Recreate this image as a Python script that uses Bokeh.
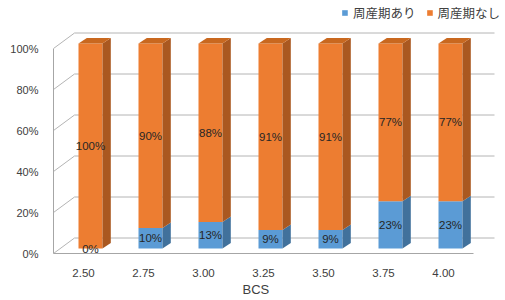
from bokeh.plotting import figure
from bokeh.models import (ColumnDataSource, FixedTicker, PrintfTickFormatter,
                          Range1d, Legend, LegendItem, Title)
from bokeh.core.properties import value
from bokeh.embed import file_html
from bokeh.resources import INLINE

# ---------------- data ----------------
bcs = [2.50, 2.75, 3.00, 3.25, 3.50, 3.75, 4.00]
peri_yes = [0, 10, 13, 9, 9, 23, 23]        # 周産期あり (%)
peri_no = [100, 90, 88, 91, 91, 77, 77]     # 周産期なし (%)
y_ticks = [0, 20, 40, 60, 80, 100]
series_names = ["周産期あり", "周産期なし"]
x_title = "BCS"

# ---------------- style / geometry ----------------
W, H = 505, 300
B_LEFT, B_BOTTOM, B_RIGHT, B_TOP = 53, 47, 5, 0
PX_X = 240.0      # pixels per BCS unit
PX_Y = 2.05       # pixels per percent

FRONT = ["#5B9BD5", "#ED7D31"]
SIDE = ["#41719C", "#AA5820"]
TOP = ["#4F89BF", "#C9681F"]
GRID = "#B4B4B4"
AXIS = "#A6A6A6"
LABEL_C = "#262626"
TICK_C = "#404040"
FONT = "Liberation Sans"
CJK = "Noto Sans CJK JP"

step = bcs[1] - bcs[0]
floor_lo = bcs[0] - step / 2
floor_hi = bcs[-1] + step / 2

WALL_DX = 21 / PX_X
WALL_DY = 15.5 / PX_Y
BAR_W = 24 / PX_X
BAR_DX = 7 / PX_X
BAR_DY = 5 / PX_Y
SIDE_DX = 8.3 / PX_X
SIDE_DY = 5.5 / PX_Y

x_end = floor_lo + (W - B_LEFT - B_RIGHT) / PX_X
y_end = (H - B_BOTTOM - B_TOP) / PX_Y

p = figure(width=W, height=H, output_backend="svg", toolbar_location=None,
           x_range=Range1d(floor_lo, x_end), y_range=Range1d(0, y_end),
           min_border_left=B_LEFT, min_border_bottom=B_BOTTOM,
           min_border_right=B_RIGHT, min_border_top=B_TOP)
p.outline_line_color = None
p.xgrid.visible = False
p.ygrid.visible = False
p.background_fill_color = "white"
p.border_fill_color = "white"

# back wall gridlines + left diagonals
gx0 = [floor_lo + WALL_DX] * len(y_ticks)
gx1 = [floor_hi + WALL_DX] * len(y_ticks)
gy = [g + WALL_DY for g in y_ticks]
p.segment(x0=gx0, y0=gy, x1=gx1, y1=gy, line_color=GRID, line_width=1)
p.segment(x0=[floor_lo] * len(y_ticks), y0=y_ticks,
          x1=[floor_lo + WALL_DX] * len(y_ticks), y1=gy,
          line_color=GRID, line_width=1)

# bars
totals = [a + b for a, b in zip(peri_yes, peri_no)]
series = [peri_yes, peri_no]
cx = [x + BAR_DX for x in bcs]
lefts = [c - BAR_W / 2 for c in cx]
rights = [c + BAR_W / 2 for c in cx]
base = [BAR_DY] * len(bcs)
renderers = []
label_x, label_y, label_t = [], [], []
for k, vals in enumerate(series):
    bottoms = list(base)
    tops = [b + v / t * 100 for b, v, t in zip(bottoms, vals, totals)]
    src = ColumnDataSource(dict(left=lefts, right=rights, bottom=bottoms, top=tops))
    r = p.quad(left="left", right="right", bottom="bottom", top="top",
               source=src, fill_color=FRONT[k], line_color=None)
    renderers.append(r)
    side_xs = [[rr, rr + SIDE_DX, rr + SIDE_DX, rr] for rr in rights]
    side_ys = [[b, b + SIDE_DY, t + SIDE_DY, t] for b, t in zip(bottoms, tops)]
    p.patches(xs=side_xs, ys=side_ys, fill_color=SIDE[k], line_color=None)
    if k == len(series) - 1:
        top_xs = [[l, rr, rr + SIDE_DX, l + SIDE_DX] for l, rr in zip(lefts, rights)]
        top_ys = [[t, t, t + SIDE_DY, t + SIDE_DY] for t in tops]
        p.patches(xs=top_xs, ys=top_ys, fill_color=TOP[k], line_color=None)
    for c, b, t, v in zip(cx, bottoms, tops, vals):
        label_x.append(c)
        label_y.append((b + t) / 2)
        label_t.append(f"{v}%")
    base = tops

p.text(x=label_x, y=label_y, text=label_t, text_align="center",
       text_baseline="middle", text_font=value(FONT),
       text_font_size="11.5px", text_color=LABEL_C)

# axes
yax = p.yaxis[0]
yax.ticker = FixedTicker(ticks=y_ticks)
yax.formatter = PrintfTickFormatter(format="%d%%")
yax.bounds = (0, 100)
yax.axis_line_color = AXIS
yax.major_tick_line_color = None
yax.minor_tick_line_color = None
yax.major_label_standoff = 9
yax.major_label_text_font = FONT
yax.major_label_text_font_size = "11px"
yax.major_label_text_color = TICK_C

xax = p.xaxis[0]
xax.ticker = FixedTicker(ticks=bcs)
xax.formatter = PrintfTickFormatter(format="%.2f")
xax.bounds = (floor_lo, floor_hi)
xax.axis_line_color = AXIS
xax.major_tick_line_color = None
xax.minor_tick_line_color = None
xax.major_label_standoff = 9
xax.major_label_text_font = FONT
xax.major_label_text_font_size = "11.5px"
xax.major_label_text_color = TICK_C

# axis title below the axis, left-aligned with an offset
p.add_layout(Title(text=x_title, align="left", offset=189, standoff=0,
                   text_font=FONT, text_font_size="13px",
                   text_font_style="normal", text_color=TICK_C), "below")

legend = Legend(items=[LegendItem(label=series_names[i], renderers=[renderers[i]])
                       for i in range(2)],
                location="top_right", orientation="horizontal",
                margin=0, padding=3, spacing=10, label_standoff=5,
                glyph_width=7, glyph_height=7, label_height=24,
                label_text_font=CJK, label_text_font_size="12.5px",
                label_text_color=TICK_C, border_line_color=None,
                background_fill_alpha=0)
p.add_layout(legend)

open("out.html", "w").write(file_html(p, INLINE))
